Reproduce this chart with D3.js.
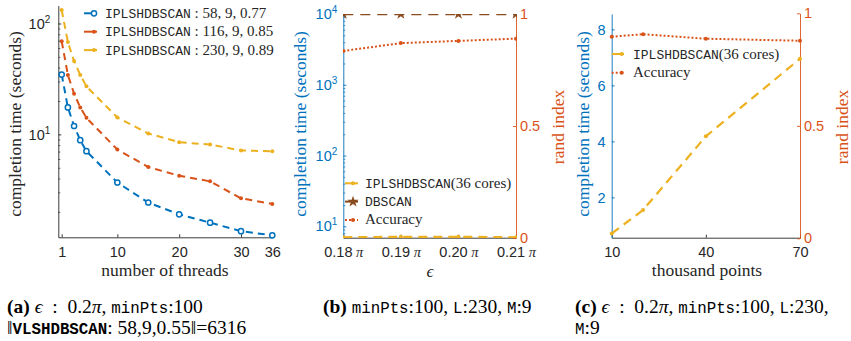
<!DOCTYPE html>
<html>
<head>
<meta charset="utf-8">
<script src="https://cdn.jsdelivr.net/npm/d3@7"></script>
<style>
body { margin: 0; background: #fff; }
svg { display: block; }
</style>
</head>
<body>
<div id="chart"></div>
<script>
var w = 851;
var h = 341;

var blue = "#0072BD", orange = "#D95319", yellow = "#EDB120", brown = "#8a4b1f";
var axisCol = "#262626";
var serif = "'Liberation Serif', 'Times New Roman', serif";
var mono = "'Liberation Mono', monospace";
var sans = "'Liberation Sans', Arial, sans-serif";

// (a) threads vs time
var threads = [1, 2, 3, 4, 5, 10, 15, 20, 25, 30, 36];
var timeL58 = [34.6, 17.5, 11.9, 8.87, 7.05, 3.68, 2.43, 1.90, 1.60, 1.34, 1.23];
var timeL116 = [69, 34.4, 23.3, 17.5, 14.1, 7.3, 5.08, 4.24, 3.77, 2.65, 2.36];
var timeL230 = [132, 68, 45.8, 34.4, 27.1, 14.2, 10.2, 8.5, 8.1, 7.16, 7.05];
var legendA = ["58, 9, 0.77", "116, 9, 0.85", "230, 9, 0.89"];
var threadTicks = [1, 10, 20, 30, 36];

// (b) epsilon
var epsilons = [0.18, 0.19, 0.20, 0.21];
var iplTimeEps = [7.0, 7.1, 7.1, 7.0];
var dbscanTimeEps = [10000, 10000, 10000, 10000];
var accEps = [0.835, 0.87, 0.88, 0.89];

// (c) number of points
var pointsK = [10, 20, 40, 70];
var iplTimePts = [0.71, 1.55, 4.18, 6.95];
var accPts = [0.896, 0.907, 0.887, 0.878];
var pointTicks = [10, 40, 70];
var linTicks = [2, 4, 6, 8];
var randTicks = [0, 0.5, 1];

var svg = d3.select("#chart").append("svg")
	.attr("width", w)
	.attr("height", h);

svg.append("rect").attr("width", w).attr("height", h).attr("fill", "#fff");

function clip(id, x0, y0, x1, y1) {
	svg.append("clipPath").attr("id", id)
		.append("rect")
		.attr("x", x0).attr("y", y0)
		.attr("width", x1 - x0).attr("height", y1 - y0);
}

function styleAxis(g, col) {
	g.select(".domain").attr("stroke", col).attr("stroke-width", 0.9);
	g.selectAll(".tick line").attr("stroke", col).attr("stroke-width", 0.9);
	g.selectAll(".tick text")
		.attr("fill", col)
		.attr("font-family", sans)
		.attr("font-size", "14.5px");
}

function powLabels(g) {
	g.selectAll(".tick text").each(function (d) {
		var t = d3.select(this);
		var e = Math.round(Math.log10(d));
		t.text("");
		t.append("tspan").text("10");
		t.append("tspan").attr("dy", "-0.6em").attr("font-size", "10px").text(e);
	});
}

function minorLog(lo, hi) {
	var out = [];
	for (var p = -1; p <= 4; p++) {
		for (var k = 2; k <= 9; k++) {
			var v = k * Math.pow(10, p);
			if (v >= lo && v <= hi) out.push(v);
		}
	}
	return out;
}

function drawLine(g, xs, ys, x, y, col, dash, width) {
	var line = d3.line()
		.x(function (d) { return x(d[0]); })
		.y(function (d) { return y(d[1]); });
	g.append("path")
		.datum(d3.zip(xs, ys))
		.attr("d", line)
		.attr("fill", "none")
		.attr("stroke", col)
		.attr("stroke-width", width || 2)
		.attr("stroke-dasharray", dash);
}

function drawDots(g, xs, ys, x, y, col, r) {
	g.selectAll(null)
		.data(d3.zip(xs, ys))
		.enter()
		.append("circle")
		.attr("cx", function (d) { return x(d[0]); })
		.attr("cy", function (d) { return y(d[1]); })
		.attr("r", r || 2)
		.attr("fill", col);
}

function rotLabel(x, y, txt, col) {
	svg.append("text")
		.attr("transform", "translate(" + x + "," + y + ") rotate(-90)")
		.attr("text-anchor", "middle")
		.attr("dominant-baseline", "central")
		.attr("font-family", serif)
		.attr("font-size", "17.5px")
		.attr("fill", col)
		.text(txt);
}

function xLabel(x, y, txt, italic) {
	svg.append("text")
		.attr("x", x).attr("y", y)
		.attr("text-anchor", "middle")
		.attr("font-family", serif)
		.attr("font-size", "17.5px")
		.attr("font-style", italic ? "italic" : "normal")
		.attr("fill", axisCol)
		.text(txt);
}

// rich text: list of [text, style]; m = mono, b = bold, i = italic
function rich(x, y, parts, serifSize, monoSize) {
	var t = svg.append("text")
		.attr("x", x).attr("y", y)
		.attr("font-family", serif)
		.attr("font-size", serifSize)
		.attr("fill", "#000");
	parts.forEach(function (p) {
		var st = p[1] || "";
		var s = t.append("tspan").attr("xml:space", "preserve").text(p[0]);
		if (st.indexOf("m") >= 0) s.attr("font-family", mono).attr("font-size", monoSize);
		if (st.indexOf("b") >= 0) s.attr("font-weight", "bold");
		if (st.indexOf("i") >= 0) s.attr("font-style", "italic");
	});
	return t;
}

/* ---------------- panel (a) ---------------- */
var xA = d3.scaleLinear().domain([0.45, 30, 36]).range([58.3, 241, 272.3]);
var yA = d3.scaleLog().domain([1.18, 145]).range([237.3, 5.6]);

var gAx = svg.append("g")
	.attr("transform", "translate(0," + yA.range()[0] + ")")
	.call(d3.axisBottom(xA).tickValues(threadTicks).tickSize(-3).tickPadding(9).tickSizeOuter(0));
styleAxis(gAx, axisCol);

var gAy = svg.append("g")
	.attr("transform", "translate(" + xA.range()[0] + ",0)")
	.call(d3.axisLeft(yA).tickValues([10, 100]).tickSize(-3).tickPadding(8).tickSizeOuter(0));
styleAxis(gAy, axisCol);
powLabels(gAy);
svg.append("g")
	.attr("transform", "translate(" + xA.range()[0] + ",0)")
	.call(d3.axisLeft(yA).tickValues(minorLog(1.18, 145)).tickSize(-2).tickFormat(""))
	.call(function (g) { g.select(".domain").remove(); })
	.selectAll(".tick line").attr("stroke", axisCol).attr("stroke-width", 0.7);

clip("clipA", 54, 0, 280, 240);
var pA = svg.append("g").attr("clip-path", "url(#clipA)");
drawLine(pA, threads, timeL230, xA, yA, yellow, "7,5");
drawDots(pA, threads, timeL230, xA, yA, yellow, 2);
drawLine(pA, threads, timeL116, xA, yA, orange, "7,5");
drawDots(pA, threads, timeL116, xA, yA, orange, 2);
drawLine(pA, threads, timeL58, xA, yA, blue, "7,5");
pA.selectAll(null)
	.data(d3.zip(threads, timeL58))
	.enter()
	.append("circle")
	.attr("cx", function (d) { return xA(d[0]); })
	.attr("cy", function (d) { return yA(d[1]); })
	.attr("r", 2.6)
	.attr("fill", "#fff")
	.attr("stroke", blue)
	.attr("stroke-width", 1.5);

rotLabel(15, 124, "completion time (seconds)", axisCol);
xLabel(165, 276, "number of threads");

// legend (a)
[blue, orange, yellow].forEach(function (c, i) {
	var ly = 13.3 + i * 18.4;
	svg.append("line").attr("x1", 84).attr("x2", 97).attr("y1", ly).attr("y2", ly)
		.attr("stroke", c).attr("stroke-width", 2);
	if (i === 0) {
		svg.append("circle").attr("cx", 94).attr("cy", ly).attr("r", 2.6)
			.attr("fill", "#fff").attr("stroke", c).attr("stroke-width", 1.5);
	} else {
		svg.append("circle").attr("cx", 94).attr("cy", ly).attr("r", 2).attr("fill", c);
	}
	rich(105, ly + 4.5, [["IPLSHDBSCAN", "m"], [" : " + legendA[i], ""]], "15px", "13px")
		.attr("fill", axisCol);
});

/* ---------------- panel (b) ---------------- */
var xB = d3.scaleLinear().domain([0.18, 0.21]).range([343.3, 516]);
var yB = d3.scaleLog().domain([6.9, 10000]).range([237.7, 14]);
var rB = d3.scaleLinear().domain([0, 1]).range([238, 14]);

var gBx = svg.append("g")
	.attr("transform", "translate(0,237.7)")
	.call(d3.axisBottom(xB).tickValues(epsilons).tickSize(-3).tickPadding(9.5).tickSizeOuter(0));
styleAxis(gBx, axisCol);
gBx.selectAll(".tick text").each(function (d) {
	var t = d3.select(this);
	t.text("");
	t.append("tspan").text(d3.format(".2f")(d));
	t.append("tspan").attr("font-family", serif).attr("font-style", "italic").text(" \u03c0");
});

var gBy = svg.append("g")
	.attr("transform", "translate(343.3,0)")
	.call(d3.axisLeft(yB).tickValues([10, 100, 1000, 10000]).tickSize(-3).tickPadding(6).tickSizeOuter(0));
styleAxis(gBy, blue);
powLabels(gBy);
svg.append("g")
	.attr("transform", "translate(343.3,0)")
	.call(d3.axisLeft(yB).tickValues(minorLog(6.9, 10000)).tickSize(-2).tickFormat(""))
	.call(function (g) { g.select(".domain").remove(); })
	.selectAll(".tick line").attr("stroke", blue).attr("stroke-width", 0.7);

var gBr = svg.append("g")
	.attr("transform", "translate(516,0)")
	.call(d3.axisRight(rB).tickValues(randTicks).tickSize(-3).tickPadding(4).tickSizeOuter(0)
		.tickFormat(d3.format("")));
styleAxis(gBr, orange);

clip("clipB", 343, 14, 517, 238);
var pB = svg.append("g").attr("clip-path", "url(#clipB)");
drawLine(pB, epsilons, iplTimeEps, xB, yB, yellow, "9,6", 2.2);
drawDots(pB, epsilons, iplTimeEps, xB, yB, yellow, 2);
drawLine(pB, epsilons, dbscanTimeEps, xB, yB, brown, "10,7", 2.4);
pB.selectAll(null)
	.data(d3.zip(epsilons, dbscanTimeEps))
	.enter()
	.append("path")
	.attr("d", d3.symbol(d3.symbolStar, 40))
	.attr("transform", function (d) { return "translate(" + xB(d[0]) + "," + yB(d[1]) + ")"; })
	.attr("fill", brown);
drawLine(pB, epsilons, accEps, xB, rB, orange, "2,2", 2);
drawDots(pB, epsilons, accEps, xB, rB, orange, 2);

rotLabel(300, 124, "completion time (seconds)", blue);
rotLabel(558, 127, "rand index", orange);
xLabel(430, 277, "\u03f5", true);

// legend (b)
var legB = [
	{ col: yellow, dash: null, mk: "dot", parts: [["IPLSHDBSCAN", "m"], ["(36 cores)", ""]] },
	{ col: brown, dash: null, mk: "star", parts: [["DBSCAN", "m"]] },
	{ col: orange, dash: "2,2", mk: "dot", parts: [["Accuracy", ""]] }
];
legB.forEach(function (L, i) {
	var ly = 183.3 + i * 18.3;
	svg.append("line").attr("x1", 345).attr("x2", 358).attr("y1", ly).attr("y2", ly)
		.attr("stroke", L.col).attr("stroke-width", 2).attr("stroke-dasharray", L.dash);
	if (L.mk === "star") {
		svg.append("path").attr("d", d3.symbol(d3.symbolStar, 40))
			.attr("transform", "translate(353," + ly + ")").attr("fill", L.col);
	} else {
		svg.append("circle").attr("cx", 353).attr("cy", ly).attr("r", 2).attr("fill", L.col);
	}
	rich(365, ly + 4.5, L.parts, "15px", "13px").attr("fill", axisCol);
});

/* ---------------- panel (c) ---------------- */
var xC = d3.scaleLinear().domain([10, 70]).range([611.7, 800]);
var yC = d3.scaleLinear().domain([0.56, 8.55]).range([237.7, 14]);
var rC = d3.scaleLinear().domain([0, 1]).range([238.3, 13.3]);

var gCx = svg.append("g")
	.attr("transform", "translate(0,237.7)")
	.call(d3.axisBottom(xC).tickValues(pointTicks).tickSize(-3).tickPadding(9.5).tickSizeOuter(0));
styleAxis(gCx, axisCol);

var gCy = svg.append("g")
	.attr("transform", "translate(611.7,0)")
	.call(d3.axisLeft(yC).tickValues(linTicks).tickSize(-3).tickPadding(6).tickSizeOuter(0));
styleAxis(gCy, blue);

var gCr = svg.append("g")
	.attr("transform", "translate(800,0)")
	.call(d3.axisRight(rC).tickValues(randTicks).tickSize(-3).tickPadding(4).tickSizeOuter(0)
		.tickFormat(d3.format("")));
styleAxis(gCr, orange);

clip("clipC", 608, 10, 804, 240);
var pC = svg.append("g").attr("clip-path", "url(#clipC)");
drawLine(pC, pointsK, iplTimePts, xC, yC, yellow, "9,6", 2.2);
drawDots(pC, pointsK, iplTimePts, xC, yC, yellow, 2);
drawLine(pC, pointsK, accPts, xC, rC, orange, "2,2", 2);
drawDots(pC, pointsK, accPts, xC, rC, orange, 2);

rotLabel(583, 124, "completion time (seconds)", blue);
rotLabel(842, 127, "rand index", orange);
xLabel(707, 276, "thousand points");

// legend (c)
var legC = [
	{ col: yellow, dash: null, parts: [["IPLSHDBSCAN", "m"], ["(36 cores)", ""]] },
	{ col: orange, dash: "2,2", parts: [["Accuracy", ""]] }
];
legC.forEach(function (L, i) {
	var ly = 54 + i * 18.7;
	svg.append("line").attr("x1", 611.7).attr("x2", 624).attr("y1", ly).attr("y2", ly)
		.attr("stroke", L.col).attr("stroke-width", 2).attr("stroke-dasharray", L.dash);
	svg.append("circle").attr("cx", 621.7).attr("cy", ly).attr("r", 2).attr("fill", L.col);
	rich(633, ly + 4.5, L.parts, "15px", "13px").attr("fill", axisCol);
});

/* ---------------- captions ---------------- */
var capS = "19.5px", capM = "15.8px";
var sp = "\u2002";
rich(7, 313, [["(a)", "b"], [" ", ""], ["\u03f5", "i"], [sp + ":" + sp + "0.2", ""], ["\u03c0", "i"], [", ", ""],
	["minPts", "m"], [":100", ""]], capS, capM);
rich(7, 333.5, [["\u2016", ""], ["VLSHDBSCAN", "mb"], [": 58,9,0.55\u2016=6316", ""]], capS, capM);
rich(323, 313, [["(b)", "b"], [" ", ""], ["minPts", "m"], [":100, ", ""], ["L", "m"], [":230, ", ""],
	["M", "m"], [":9", ""]], capS, capM);
rich(575, 313, [["(c)", "b"], [" ", ""], ["\u03f5", "i"], [sp + ":" + sp + "0.2", ""], ["\u03c0", "i"], [", ", ""],
	["minPts", "m"], [":100, ", ""], ["L", "m"], [":230,", ""]], capS, capM);
rich(575, 333.5, [["M", "m"], [":9", ""]], capS, capM);
</script>
</body>
</html>
